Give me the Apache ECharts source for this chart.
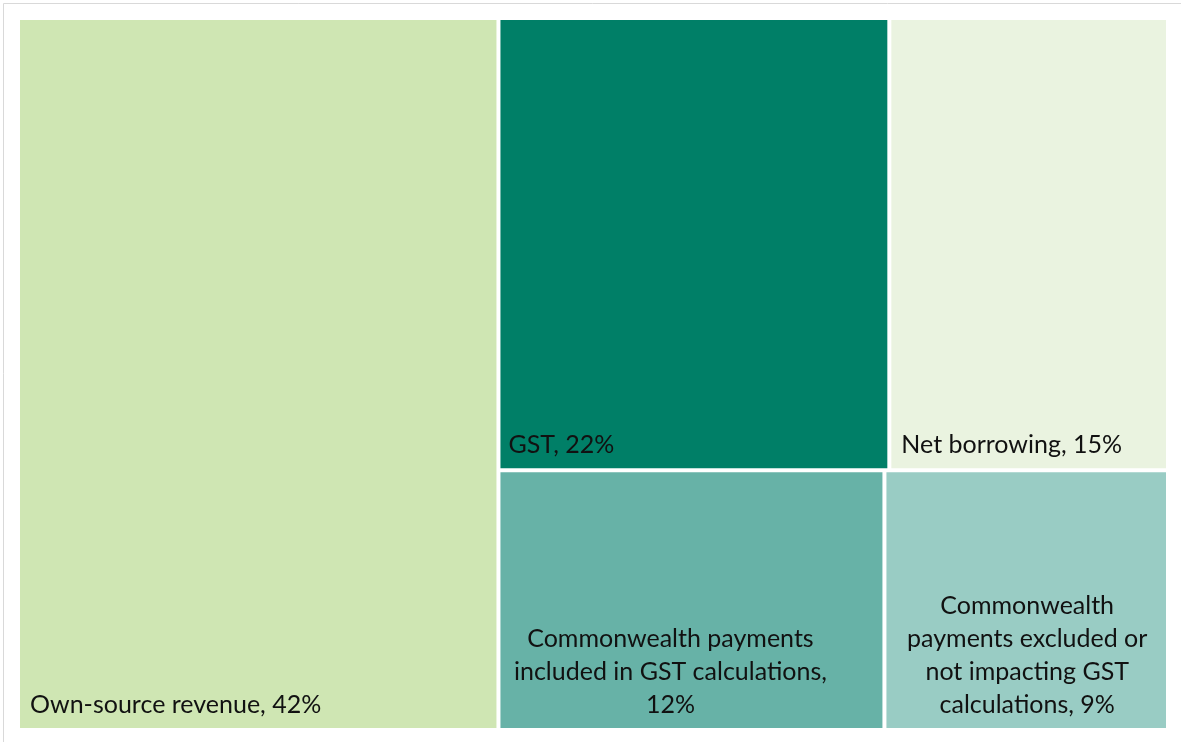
<!DOCTYPE html>
<html>
<head>
<meta charset="utf-8">
<script src="https://cdn.jsdelivr.net/npm/echarts@6/dist/echarts.min.js"></script>
<style>
html,body{margin:0;padding:0;background:#fff;}
#chart{width:1181px;height:742px;}
</style>
</head>
<body>
<div id="chart"></div>
<script>
const categories = [
  "Own-source revenue",
  "GST",
  "Net borrowing",
  "Commonwealth payments included in GST calculations",
  "Commonwealth payments excluded or not impacting GST calculations"
];
// shares (%) as read from tile areas; labels show the rounded figures
const shares = [41.8, 21.6, 15.4, 12.25, 9.0];
const labelTexts = [
  "Own-source revenue, 42%",
  "GST, 22%",
  "Net borrowing, 15%",
  "Commonwealth payments\nincluded in GST calculations,\n12%",
  "Commonwealth\npayments excluded or\nnot impacting GST\ncalculations, 9%"
];
const palette = ["#CFE6B3", "#007F67", "#EAF3E0", "#67B2A7", "#99CCC4"];

const FONT = "Lato, 'Open Sans', sans-serif";
const leftLabel = {
  position: 'insideBottomLeft',
  distance: 0,
  padding: [0, 0, 7, 10],
  align: 'left'
};
const labelStyles = [
  leftLabel,
  Object.assign({}, leftLabel, { padding: [0, 0, 7, 8] }),
  leftLabel,
  { position: 'insideBottom', distance: 0, padding: [0, 0, 7, 0], align: 'center', offset: [-21, 0] },
  { position: 'insideBottom', distance: 0, padding: [0, 0, 7, 0], align: 'center', offset: [1, 0] }
];

const data = categories.map((c, i) => ({
  name: c,
  value: shares[i],
  itemStyle: { color: palette[i] },
  label: Object.assign({ formatter: () => labelTexts[i] }, labelStyles[i])
}));

const chart = echarts.init(document.getElementById('chart'), null, { renderer: 'canvas' });
chart.setOption({
  animation: false,
  graphic: [{
    type: 'rect',
    shape: { x: 3.5, y: 3.5, width: 1200, height: 800 },
    style: { fill: 'none', stroke: '#D9D9D9', lineWidth: 1 },
    silent: true
  }],
  series: [{
    type: 'treemap',
    left: 20, top: 20, right: 15, bottom: 14,
    roam: false,
    nodeClick: false,
    breadcrumb: { show: false },
    sort: 'desc',
    squareRatio: 1,
    label: {
      show: true,
      color: '#111',
      fontFamily: FONT,
      fontSize: 25,
      lineHeight: 33,
      overflow: 'none'
    },
    upperLabel: { show: false },
    levels: [
      { itemStyle: { borderWidth: 0, gapWidth: 4, borderColor: '#fff' } },
      { itemStyle: { borderWidth: 0, gapWidth: 0 } }
    ],
    data: data
  }]
});
</script>
</body>
</html>
